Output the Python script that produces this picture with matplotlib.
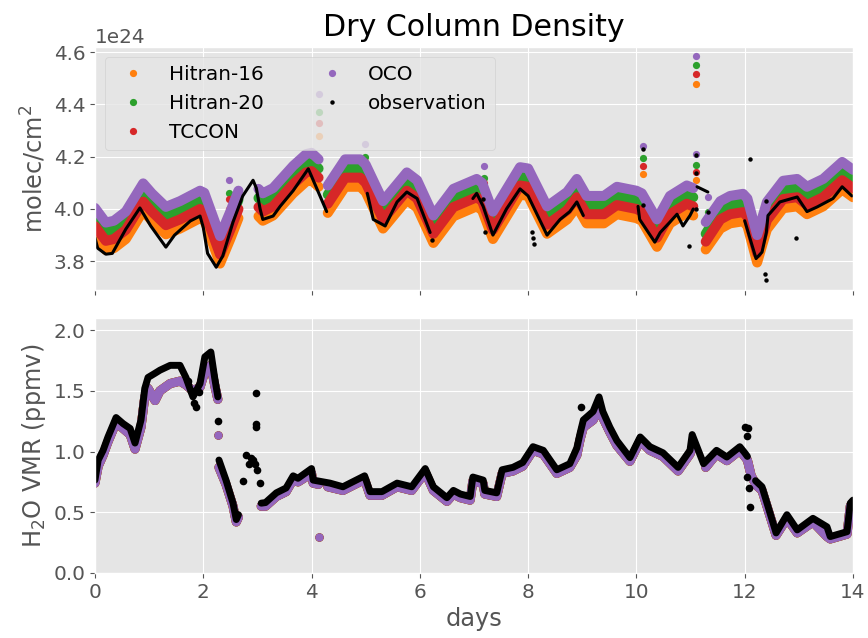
import numpy as np
import matplotlib
matplotlib.use("Agg")
import matplotlib.pyplot as plt
from matplotlib.lines import Line2D

N = None
# ---------------- Dry column density (units of 1e24 molec/cm2) ----------------
t_mod = [0.0, 0.2, 0.35, 0.57, 0.89, 1.05, 1.31, 1.57, 1.94, 2.02, 2.31, 2.5, 2.65, N,
         3.02, 3.1, 3.29, 3.66, 3.9, 4.0, 4.13, N,
         4.3, 4.62, 4.9, 5.0, 5.32, 5.76, 5.95, 6.25, 6.62, 7.05, 7.15, 7.35, 7.85, 8.0, 8.35,
         8.72, 8.9, 9.08, 9.4, 9.64, 10.0, 10.1, 10.38, 10.62, 10.93, 11.05, N,
         11.28, 11.55, 11.73, 11.97, 12.05, 12.23, 12.41, 12.71, 12.97, 13.15, 13.45, 13.8, 14.0]
oco = [4.004, 3.948, 3.955, 3.99, 4.098, 4.06, 4.008, 4.03, 4.07, 4.062, 3.896, 3.99, 4.07, N,
       4.077, 4.06, 4.08, 4.165, 4.21, 4.215, 4.19, N,
       4.09, 4.19, 4.19, 4.17, 4.03, 4.14, 4.11, 3.975, 4.077, 4.115, 4.10, 3.99, 4.16, 4.155, 4.01,
       4.065, 4.115, 4.05, 4.05, 4.085, 4.07, 4.06, 3.96, 4.05, 4.09, 4.08, N,
       3.95, 4.03, 4.05, 4.058, 4.04, 3.90, 4.027, 4.108, 4.115, 4.085, 4.115, 4.18, 4.15]
hitran20 = [3.969, 3.913, 3.920, 3.955, 4.063, 4.025, 3.973, 3.995, 4.035, 4.027, 3.861, 3.955, 4.035, N,
            4.042, 4.025, 4.045, 4.130, 4.175, 4.180, 4.155, N,
            4.055, 4.155, 4.155, 4.135, 3.995, 4.105, 4.075, 3.940, 4.042, 4.080, 4.065, 3.955, 4.125, 4.120, 3.975,
            4.030, 4.080, 4.015, 4.015, 4.050, 4.035, 4.025, 3.925, 4.015, 4.055, 4.045, N,
            3.905, 3.995, 4.015, 4.023, 4.005, 3.865, 3.992, 4.073, 4.080, 4.050, 4.080, 4.145, 4.115]
tccon = [3.934, 3.878, 3.885, 3.920, 4.028, 3.990, 3.938, 3.960, 4.000, 3.992, 3.826, 3.920, 4.000, N,
         4.007, 3.990, 4.010, 4.095, 4.140, 4.145, 4.120, N,
         4.020, 4.120, 4.120, 4.100, 3.960, 4.070, 4.040, 3.905, 4.007, 4.045, 4.030, 3.920, 4.090, 4.085, 3.940,
         3.995, 4.045, 3.980, 3.980, 4.015, 4.000, 3.990, 3.890, 3.980, 4.020, 4.010, N,
         3.875, 3.960, 3.980, 3.988, 3.970, 3.830, 3.957, 4.038, 4.045, 4.015, 4.045, 4.110, 4.080]
hitran16 = [3.899, 3.843, 3.850, 3.885, 3.993, 3.955, 3.903, 3.925, 3.965, 3.957, 3.791, 3.885, 3.965, N,
            3.972, 3.955, 3.975, 4.060, 4.105, 4.110, 4.085, N,
            3.985, 4.085, 4.085, 4.065, 3.925, 4.035, 4.005, 3.870, 3.972, 4.010, 3.995, 3.885, 4.055, 4.050, 3.905,
            3.960, 4.010, 3.945, 3.945, 3.980, 3.965, 3.955, 3.855, 3.945, 3.985, 3.975, N,
            3.845, 3.925, 3.945, 3.953, 3.935, 3.795, 3.922, 4.003, 4.010, 3.980, 4.010, 4.075, 4.045]

# isolated model soundings
t_mod_iso = [2.48, 4.14, 4.99, 7.18, 10.12, 11.1, 11.1, 11.32]
oco_iso = [4.11, 4.44, 4.25, 4.165, 4.242, 4.585, 4.21, 4.046]
hitran20_iso = [4.06, 4.37, 4.20, 4.12, 4.196, 4.55, 4.17, 3.99]
tccon_iso = [4.04, 4.33, 4.18, 4.10, 4.165, 4.515, 4.14, 3.96]
hitran16_iso = [4.00, 4.28, 4.15, 4.07, 4.135, 4.48, 4.11, 3.93]

t_obs = [0.0, 0.05, 0.2, 0.32, 0.57, 0.83, 1.03, 1.31, 1.47, 1.76, 1.94, 2.0, 2.08, 2.24, 2.36, 2.55,
         2.73, 2.92, 2.98, 3.05, 3.1, 3.29, 3.42, 3.66, 3.94, 4.28, N,
         5.03, 5.14, 5.36, 5.58, 5.76, 5.95, 6.19, N,
         6.98, 7.05, 7.17, 7.35, 7.6, 7.85, 8.0, 8.35, 8.59, 8.77, 8.9, 9.02, N,
         10.03, 10.06, 10.34, 10.44, 10.62, 10.75, 10.86, 10.99, 11.05, N,
         11.12, 11.32, N,
         12.0, 12.14, 12.21, 12.32, 12.4, 12.43, 12.65, 12.97, 13.15, 13.34, 13.63, 13.8, 13.98]
obs = [3.89, 3.85, 3.827, 3.83, 3.923, 4.004, 3.935, 3.854, 3.90, 3.954, 3.973, 3.93, 3.83, 3.777, 3.82, 3.95,
       4.05, 4.11, 4.08, 4.0, 3.96, 3.973, 4.01, 4.07, 4.154, 3.99, N,
       4.06, 3.96, 3.935, 4.027, 4.065, 4.04, 3.91, N,
       4.04, 4.06, 4.01, 3.90, 4.0, 4.077, 4.05, 3.90, 3.96, 3.99, 4.027, 3.975, N,
       4.01, 3.96, 3.873, 3.91, 3.95, 3.98, 3.935, 3.975, 4.0, N,
       4.085, 4.065, N,
       3.955, 3.858, 3.81, 3.835, 3.91, 3.975, 4.027, 4.046, 3.99, 4.008, 4.04, 4.085, 4.05]
t_obs_iso = [6.22, 7.17, 7.2, 8.08, 8.09, 8.1, 10.12, 10.12, 10.97, 11.1, 11.1, 11.1, 11.32,
             12.1, 12.4, 12.95, 12.38, 12.4]
obs_iso = [3.88, 4.04, 3.91, 3.91, 3.89, 3.865, 4.23, 4.015, 3.858, 4.208, 4.138, 4.0, 3.99,
           4.19, 4.03, 3.89, 3.75, 3.73]

# ---------------- H2O VMR (ppmv) ----------------
t_h2o_mod = [0.0, 0.06, 0.15, 0.24, 0.39, 0.52, 0.65, 0.74, 0.85, 0.92, 0.98, 1.11, 1.2, 1.39, 1.57,
             1.68, 1.81, 1.94, 2.03, 2.14, 2.21, 2.27, N,
             2.29, 2.42, 2.55, 2.61, 2.65, N,
             3.07, 3.15, 3.35, 3.53, 3.66, 3.75, 4.0, 4.03, 4.13, N,
             4.3, 4.58, 4.98, 5.08, 5.3, 5.58, 5.85, 6.1, 6.25, 6.5, 6.62, 6.75, 6.93, 6.98, 7.17, 7.2,
             7.42, 7.52, 7.72, 7.9, 8.09, 8.28, 8.53, 8.77, 8.9, 8.96, 9.02, 9.2, 9.31, 9.38, 9.51, 9.64,
             9.88, 10.07, 10.25, 10.49, 10.77, 10.99, 11.05, N,
             11.28, 11.48, 11.67, 11.91, 12.0, 12.05, 12.12, 12.22, 12.32, 12.58, 12.78, 12.97, 13.26,
             13.52, 13.58, 13.89, 13.95, 14.0]
h2o_mod = [0.74, 0.88, 0.97, 1.08, 1.24, 1.19, 1.14, 1.02, 1.20, 1.45, 1.52, 1.42, 1.50, 1.56, 1.58,
           1.55, 1.50, 1.53, 1.66, 1.71, 1.55, 1.43, N,
           0.87, 0.73, 0.55, 0.42, 0.46, N,
           0.55, 0.55, 0.63, 0.67, 0.77, 0.75, 0.82, 0.74, 0.73, N,
           0.71, 0.68, 0.77, 0.64, 0.64, 0.71, 0.68, 0.83, 0.68, 0.59, 0.65, 0.62, 0.60, 0.76, 0.735, 0.65,
           0.63, 0.82, 0.84, 0.88, 1.01, 0.98, 0.82, 0.87, 0.97, 1.10, 1.20, 1.26, 1.36, 1.28, 1.16, 1.05,
           0.92, 1.09, 1.01, 0.96, 0.84, 0.98, 1.05, N,
           0.87, 0.98, 0.925, 1.01, 0.96, 0.93, 0.80, 0.72, 0.68, 0.31, 0.45, 0.33, 0.42,
           0.30, 0.28, 0.32, 0.55, 0.58]
t_h2o_mod_iso = [2.28, 4.14]
h2o_mod_iso = [1.135, 0.30]

t_h2o_obs = [0.0, 0.06, 0.15, 0.24, 0.39, 0.52, 0.65, 0.74, 0.85, 0.92, 0.98, 1.11, 1.2, 1.39, 1.57,
             1.68, 1.81, 1.94, 2.03, 2.14, 2.21, 2.27, N,
             2.29, 2.42, 2.55, 2.61, 2.65, N,
             3.07, 3.15, 3.35, 3.53, 3.66, 3.75, 4.0, 4.03, 4.34, 4.58, 4.98, 5.08, 5.3, 5.58, 5.85,
             6.1, 6.25, 6.5, 6.62, 6.75, 6.93, 6.98, 7.17, 7.2, 7.42, 7.52, 7.72, 7.9, 8.09, 8.28, 8.53,
             8.77, 8.9, 8.96, 9.02, 9.2, 9.31, 9.38, 9.51, 9.64, 9.88, 10.07, 10.25, 10.49, 10.77,
             10.99, 11.03, 11.24, 11.48, 11.67, 11.91, 12.0, 12.05, N,
             12.2, 12.32, 12.58, 12.78, 12.97, 13.26, 13.52, 13.58, 13.89, 13.95, 14.0]
h2o_obs = [0.765, 0.93, 1.01, 1.12, 1.28, 1.23, 1.19, 1.07, 1.26, 1.52, 1.61, 1.645, 1.67, 1.71, 1.71,
           1.61, 1.45, 1.56, 1.78, 1.82, 1.61, 1.45, N,
           0.93, 0.765, 0.575, 0.44, 0.48, N,
           0.575, 0.58, 0.66, 0.70, 0.80, 0.78, 0.86, 0.765, 0.74, 0.71, 0.80, 0.67, 0.67, 0.74, 0.71,
           0.86, 0.71, 0.62, 0.68, 0.65, 0.63, 0.79, 0.765, 0.68, 0.66, 0.85, 0.87, 0.91, 1.04, 1.01, 0.85,
           0.90, 1.03, 1.15, 1.26, 1.33, 1.45, 1.33, 1.20, 1.09, 0.95, 1.12, 1.04, 0.99, 0.87,
           1.01, 1.14, 0.90, 1.01, 0.955, 1.04, 0.99, 0.96, N,
           0.76, 0.71, 0.33, 0.48, 0.355, 0.45, 0.38, 0.30, 0.34, 0.575, 0.60]
t_h2o_obs_iso = [1.72, 1.78, 1.83, 1.86, 1.92, 2.28, 2.73, 2.79, 2.84, 2.88, 2.92, 2.95, 2.97, 2.97,
                 2.98, 3.0, 3.05, 8.98, 12.0, 12.06, 12.05, 12.08, 12.1, 12.04]
h2o_obs_iso = [1.58, 1.50, 1.40, 1.37, 1.49, 1.25, 0.76, 0.97, 0.90, 0.95, 0.93, 0.90, 1.48, 1.23,
               1.20, 0.85, 0.74, 1.37, 1.20, 1.19, 1.13, 0.70, 0.545, 0.79]

series_names = ["Hitran-16", "Hitran-20", "TCCON", "OCO"]
series_colors = ["#ff7f0e", "#2ca02c", "#d62728", "#9467bd"]


def arr(v, scale=1.0):
    return np.array(v, dtype=float) * scale


plt.style.use("ggplot")
fig = plt.figure(figsize=(8.68, 6.38), dpi=100)
ax1 = fig.add_axes([0.1094, 0.5455, 0.8733, 0.3808])
ax2 = fig.add_axes([0.1094, 0.1019, 0.8733, 0.3997], sharex=ax1)

E = 1e24
tm = arr(t_mod)
tmi = arr(t_mod_iso)
for vals, iso, c in zip([hitran16, hitran20, tccon, oco],
                        [hitran16_iso, hitran20_iso, tccon_iso, oco_iso], series_colors):
    ax1.plot(tm, arr(vals, E), "-", color=c, lw=7.2, solid_capstyle="round",
             solid_joinstyle="round")
    ax1.plot(tmi, arr(iso, E), "o", ls="none", color=c, ms=5.2, mew=0)
ax1.plot(arr(t_obs), arr(obs, E), "-", color="black", lw=2.2, solid_capstyle="round",
         solid_joinstyle="round")
ax1.plot(arr(t_obs_iso), arr(obs_iso, E), "o", ls="none", color="black", ms=3.2, mew=0)

for c in series_colors:
    ax2.plot(arr(t_h2o_mod), arr(h2o_mod), "-", color=c, lw=6.5, solid_capstyle="round",
             solid_joinstyle="round")
    ax2.plot(arr(t_h2o_mod_iso), arr(h2o_mod_iso), "o", ls="none", color=c, ms=6, mew=0)
ax2.plot(arr(t_h2o_obs), arr(h2o_obs), "-", color="black", lw=5.0, solid_capstyle="round",
         solid_joinstyle="round")
ax2.plot(arr(t_h2o_obs_iso), arr(h2o_obs_iso), "o", ls="none", color="black", ms=5.5, mew=0)

ax1.set_xlim(0, 14)
ax1.set_ylim(3.69e24, 4.62e24)
ax1.set_yticks(np.arange(3.8, 4.61, 0.2) * E)
ax2.set_ylim(0, 2.1)
ax2.set_yticks([0.0, 0.5, 1.0, 1.5, 2.0])
ax2.set_xticks(np.arange(0, 15, 2))

for ax in (ax1, ax2):
    ax.tick_params(labelsize=14.4)
ax1.yaxis.get_offset_text().set_fontsize(14.4)
ax1.tick_params(labelbottom=False)

ax1.set_title("Dry Column Density", fontsize=21.6, color="black", pad=8)
ax1.set_ylabel("molec/cm$^2$", fontsize=17.3)
ax2.set_ylabel("H$_2$O VMR (ppmv)", fontsize=17.3)
ax2.set_xlabel("days", fontsize=17.3)

handles = [Line2D([], [], marker="o", ls="none", color=c, ms=5.2, mew=0) for c in series_colors]
handles.append(Line2D([], [], marker="o", ls="none", color="black", ms=3.2, mew=0))
ax1.legend(handles, series_names + ["observation"], ncol=2, loc="upper left", fontsize=14.4,
           columnspacing=2.4)

fig.savefig("out.png", dpi=100)
